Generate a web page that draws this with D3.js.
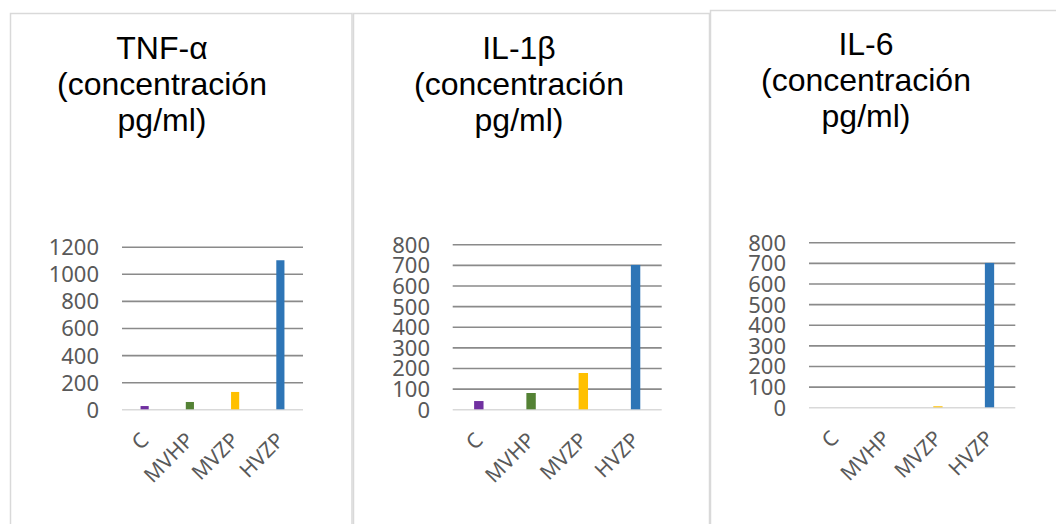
<!DOCTYPE html>
<html>
<head>
<meta charset="utf-8">
<script src="https://cdn.jsdelivr.net/npm/d3@7"></script>
<style>
  html, body { margin: 0; padding: 0; background: #ffffff; }
  svg { display: block; }
</style>
</head>
<body>
<svg id="chart" width="1056" height="524"></svg>
<script>
// ---- data ----
const categories = ["C", "MVHP", "MVZP", "HVZP"];
const tnfValues = [24, 54, 128, 1100];
const il1bValues = [40, 79, 176, 700];
const il6Values = [0, 0, 5, 700];
const tnfTicks = [0, 200, 400, 600, 800, 1000, 1200];
const il1bTicks = [0, 100, 200, 300, 400, 500, 600, 700, 800];
const il6Ticks = [0, 100, 200, 300, 400, 500, 600, 700, 800];
const tnfTitle = ["TNF-α", "(concentración", "pg/ml)"];
const il1bTitle = ["IL-1β", "(concentración", "pg/ml)"];
const il6Title = ["IL-6", "(concentración", "pg/ml)"];
const barColors = ["#7030A0", "#548235", "#FFC000", "#2E75B6"];

// ---- layout ----
const svg = d3.select("#chart");
const panels = [
  { values: tnfValues, ticks: tnfTicks, title: tnfTitle,
    box: [10.5, 13.5, 341.5, 600], titleX: 162, titleY: 59,
    plot: { x0: 122, x1: 303, y0: 409.3, y1: 246.7 }, labelX: 99 },
  { values: il1bValues, ticks: il1bTicks, title: il1bTitle,
    box: [353.5, 13.5, 356, 600], titleX: 519, titleY: 59,
    plot: { x0: 452.7, x1: 661.7, y0: 409.3, y1: 244.3 }, labelX: 430 },
  { values: il6Values, ticks: il6Ticks, title: il6Title,
    box: [710.5, 10.5, 400, 600], titleX: 866, titleY: 55,
    plot: { x0: 809, x1: 1015.3, y0: 407.3, y1: 242.3 }, labelX: 786 }
];

panels.forEach(p => {
  svg.append("rect")
    .attr("x", p.box[0]).attr("y", p.box[1])
    .attr("width", p.box[2]).attr("height", p.box[3])
    .attr("fill", "#ffffff").attr("stroke", "#d9d9d9").attr("stroke-width", 1.5);
});

panels.forEach(p => {
  const g = svg.append("g");
  const t = g.append("text")
    .attr("x", p.titleX).attr("y", p.titleY)
    .attr("text-anchor", "middle")
    .style("font-family", "'Liberation Sans', Arial, sans-serif")
    .style("font-size", "32px")
    .attr("fill", "#000000");
  p.title.forEach((line, i) => {
    t.append("tspan").attr("x", p.titleX).attr("y", p.titleY + i * 36).text(line);
  });

  const maxTick = p.ticks[p.ticks.length - 1];
  const y = d3.scaleLinear().domain([0, maxTick]).range([p.plot.y0, p.plot.y1]);
  const x = d3.scaleBand().domain(categories).range([p.plot.x0, p.plot.x1])
    .paddingInner(0.82).paddingOuter(0.41);
  const w = p.plot.x1 - p.plot.x0;

  const grid = g.append("g").attr("transform", `translate(${p.plot.x0},0)`)
    .call(d3.axisLeft(y).tickValues(p.ticks).tickSize(-w).tickFormat(""));
  grid.select(".domain").remove();
  grid.selectAll(".tick line")
    .attr("stroke", d => d === 0 ? "#d9d9d9" : "#8a8a8a")
    .attr("stroke-width", 1.6);

  const yl = g.append("g").attr("transform", `translate(${p.labelX},0)`)
    .call(d3.axisLeft(y).tickValues(p.ticks).tickSize(0).tickPadding(0).tickFormat(d3.format("d")));
  yl.select(".domain").remove();
  yl.selectAll("text")
    .style("font-family", "'Noto Sans', 'Liberation Sans', sans-serif")
    .style("font-size", "22px")
    .attr("fill", "#595959")
    .attr("dy", "0.36em");

  g.selectAll("rect.bar").data(p.values).enter().append("rect")
    .attr("class", "bar")
    .attr("x", (d, i) => x(categories[i]))
    .attr("width", x.bandwidth())
    .attr("y", d => y(d))
    .attr("height", d => p.plot.y0 - y(d))
    .attr("fill", (d, i) => barColors[i]);

  const xa = g.append("g").attr("transform", `translate(0,${p.plot.y0})`)
    .call(d3.axisBottom(x).tickSize(0).tickPadding(0));
  xa.select(".domain").remove();
  xa.selectAll(".tick text")
    .style("font-family", "'Noto Sans', 'Liberation Sans', sans-serif")
    .style("font-size", "21px")
    .attr("fill", "#595959")
    .attr("text-anchor", "end")
    .attr("y", 0).attr("dy", "0.35em")
    .attr("transform", "translate(0,27) rotate(-45)");
});
</script>
</body>
</html>
